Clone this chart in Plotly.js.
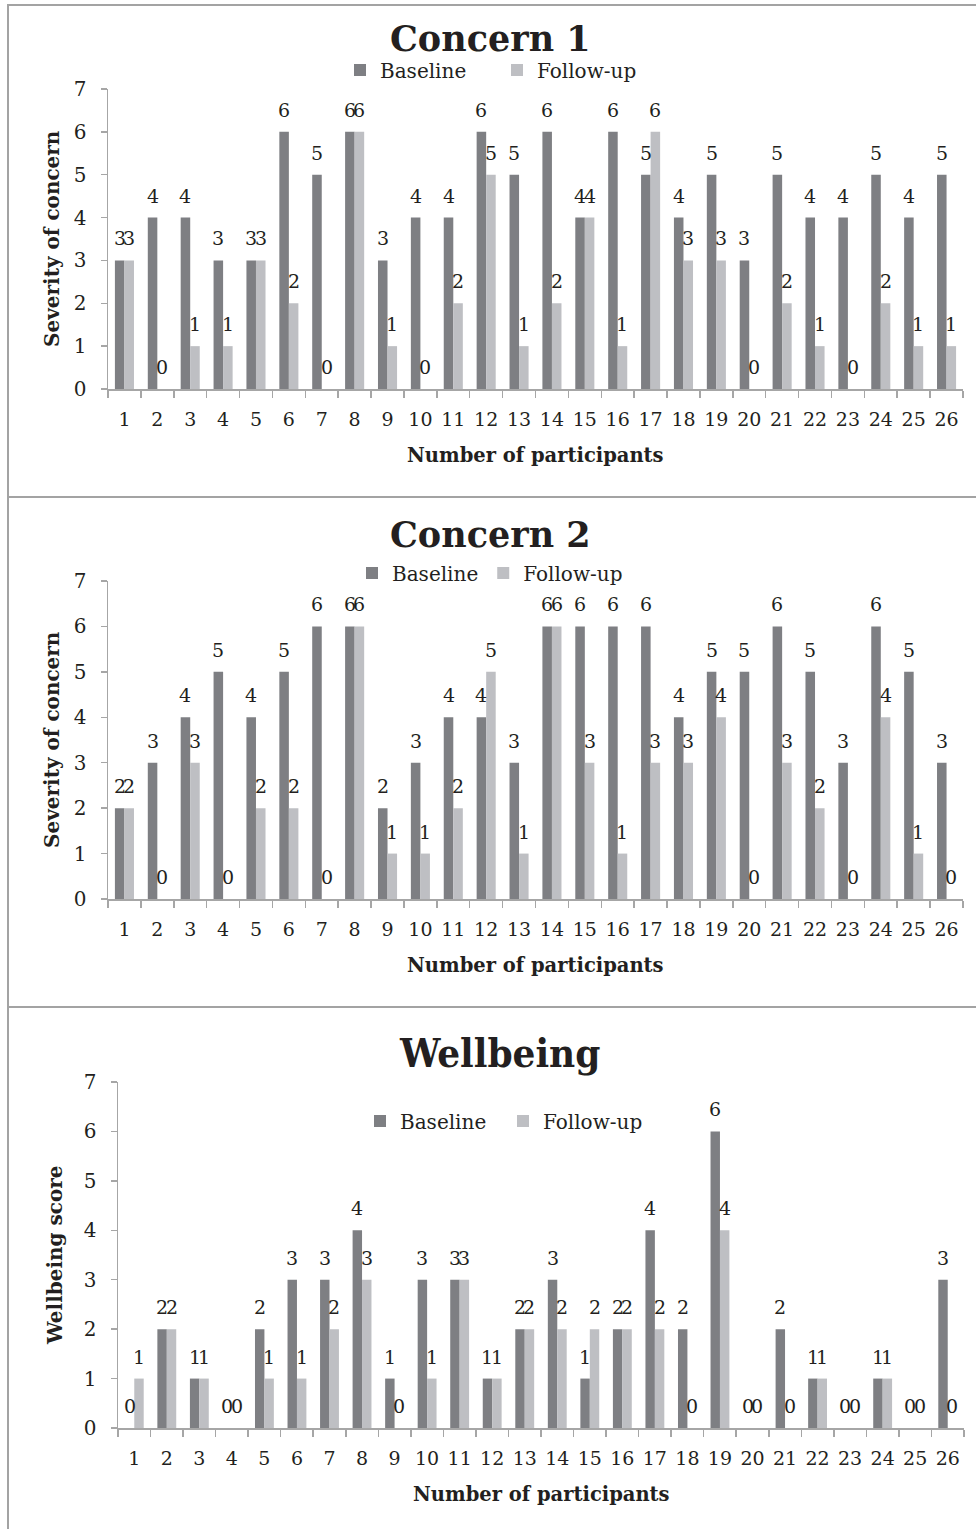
<!DOCTYPE html>
<html>
<head>
<meta charset="utf-8">
<script src="https://cdn.plot.ly/plotly-3.0.1.min.js"></script>
<style>
  html, body { margin: 0; padding: 0; background: #ffffff; }
  #chart { width: 976px; height: 1529px; }
</style>
</head>
<body>
<div id="chart"></div>
<script>
// ---- Data ----
const participants = ['1','2','3','4','5','6','7','8','9','10','11','12','13','14','15','16','17','18','19','20','21','22','23','24','25','26'];
const seriesNames = ['Baseline', 'Follow-up'];
const panelTitles = ['Concern 1', 'Concern 2', 'Wellbeing'];
const yTitles = ['Severity of concern', 'Severity of concern', 'Wellbeing score'];
const xTitle = 'Number of participants';
const yTickValues = [0, 1, 2, 3, 4, 5, 6, 7];

const concern1Baseline = [3,4,4,3,3,6,5,6,3,4,4,6,5,6,4,6,5,4,5,3,5,4,4,5,4,5];
const concern1FollowUp = [3,0,1,1,3,2,0,6,1,0,2,5,1,2,4,1,6,3,3,0,2,1,0,2,1,1];

const concern2Baseline = [2,3,4,5,4,5,6,6,2,3,4,4,3,6,6,6,6,4,5,5,6,5,3,6,5,3];
const concern2FollowUp = [2,0,3,0,2,2,0,6,1,1,2,5,1,6,3,1,3,3,4,0,3,2,0,4,1,0];

const wellbeingBaseline = [0,2,1,0,2,3,3,4,1,3,3,1,2,3,1,2,4,2,6,0,2,1,0,1,0,3];
const wellbeingFollowUp = [1,2,1,0,1,1,2,3,0,1,3,1,2,2,2,2,2,0,4,0,0,1,0,1,0,0];

// ---- Styling / layout ----
const W = 976, H = 1529;
const fx = p => p / W;
const fy = p => 1 - p / H;
const FONT = 'DejaVu Serif, Liberation Serif, serif';
const TXT = '#231f20';
const AXC = '#a6a6a6';
const COLORS = ['#7e7f83', '#bebfc3'];
const BARGAP = 0.42;

const panelData = [
  [concern1Baseline, concern1FollowUp],
  [concern2Baseline, concern2FollowUp],
  [wellbeingBaseline, wellbeingFollowUp]
];

// pixel geometry of each panel
const geom = [
  { x0: 108, x1: 963, yTop: 89,   yBot: 389,  title: 38,   titleX: 491, titleSize: 35, legY: 70,   legX: 340, legW: 112, xt: 455,  ytX: 52, border: [5, 497], titleFont: FONT },
  { x0: 108, x1: 963, yTop: 581,  yBot: 899,  title: 534,  titleX: 491, titleSize: 35, legY: 573,  legX: 352, legW: 0,   xt: 965,  ytX: 52, border: [497, 1007], titleFont: FONT },
  { x0: 118, x1: 964, yTop: 1082, yBot: 1428, title: 1052, titleX: 499, titleSize: 40, legY: 1121, legX: 360, legW: 98,  xt: 1494, ytX: 55, border: [1007, 1560], titleFont: 'DejaVu Serif Condensed, DejaVu Serif, serif' }
];

const traces = [];
const annotations = [];
const shapes = [];
const layout = {
  width: W, height: H,
  margin: { l: 0, r: 0, t: 0, b: 0, pad: 0 },
  paper_bgcolor: '#ffffff',
  plot_bgcolor: 'rgba(0,0,0,0)',
  barmode: 'group',
  bargap: BARGAP,
  bargroupgap: 0,
  font: { family: FONT, color: TXT, size: 20 },
  showlegend: true,
  annotations: annotations,
  shapes: shapes
};

geom.forEach((g, i) => {
  const n = i === 0 ? '' : String(i + 1);
  const xa = 'x' + n, ya = 'y' + n;
  const legName = 'legend' + n;

  layout['xaxis' + n] = {
    type: 'category',
    domain: [fx(g.x0), fx(g.x1)],
    anchor: ya,
    range: [-0.5, participants.length - 0.5],
    showline: true, linecolor: AXC, linewidth: 1.5,
    ticks: 'outside', ticklen: 7, tickcolor: AXC, tickwidth: 1.5,
    tickson: 'boundaries',
    tickangle: 0,
    showgrid: false, zeroline: false,
    tickfont: { family: FONT, size: 19, color: TXT },
    ticklabelstandoff: 13,
    fixedrange: true
  };
  layout['yaxis' + n] = {
    domain: [fy(g.yBot), fy(g.yTop)],
    anchor: xa,
    range: [0, 7],
    tickmode: 'array', tickvals: yTickValues, ticktext: yTickValues.map(String),
    showline: true, linecolor: AXC, linewidth: 1.5,
    ticks: 'outside', ticklen: 6, tickcolor: AXC, tickwidth: 1.5,
    showgrid: false, zeroline: false,
    tickfont: { family: FONT, size: 20, color: TXT },
    ticklabelstandoff: 10,
    fixedrange: true
  };
  const leg = {
    orientation: 'h',
    x: fx(g.legX), xanchor: 'left',
    y: fy(g.legY), yanchor: 'middle',
    font: { family: FONT, size: 20, color: TXT },
    bgcolor: 'rgba(0,0,0,0)',
    itemclick: false, itemdoubleclick: false,
    traceorder: 'normal',
    itemwidth: 30
  };
  if (g.legW) { leg.entrywidth = g.legW; leg.entrywidthmode = 'pixels'; }
  layout[legName] = leg;

  const slotPx = (g.x1 - g.x0) / participants.length;
  const barPx = slotPx * (1 - BARGAP) / 2;

  panelData[i].forEach((vals, s) => {
    traces.push({
      type: 'bar',
      name: seriesNames[s],
      x: participants,
      y: vals,
      xaxis: xa, yaxis: ya,
      legend: legName,
      marker: { color: COLORS[s], line: { width: 0 } },
      hoverinfo: 'x+y+name'
    });
    vals.forEach((v, k) => {
      annotations.push({
        xref: xa, yref: ya,
        x: k, y: v,            // category index on the category axis
        text: String(v),
        showarrow: false,
        xanchor: 'center', yanchor: 'middle',
        xshift: (s === 0 ? -1 : 1) * barPx / 2,
        yshift: 22,
        font: { family: FONT, size: 19, color: TXT }
      });
    });
  });

  // panel title
  annotations.push({
    xref: 'paper', yref: 'paper', x: fx(g.titleX), y: fy(g.title),
    xanchor: 'center', yanchor: 'middle', showarrow: false,
    text: '<b>' + panelTitles[i] + '</b>',
    font: { family: g.titleFont, size: g.titleSize, color: TXT }
  });
  // x axis title
  annotations.push({
    xref: 'paper', yref: 'paper', x: fx((g.x0 + g.x1) / 2), y: fy(g.xt),
    xanchor: 'center', yanchor: 'middle', showarrow: false,
    text: '<b>' + xTitle + '</b>',
    font: { family: FONT, size: 19.5, color: TXT }
  });
  // y axis title
  annotations.push({
    xref: 'paper', yref: 'paper', x: fx(g.ytX), y: fy((g.yTop + g.yBot) / 2),
    xanchor: 'center', yanchor: 'middle', showarrow: false, textangle: -90,
    text: '<b>' + yTitles[i] + '</b>',
    font: { family: FONT, size: 20, color: TXT }
  });
  // panel border
  shapes.push({
    type: 'rect', xref: 'paper', yref: 'paper',
    x0: fx(8), x1: fx(990), y0: fy(g.border[1]), y1: fy(g.border[0]),
    line: { color: '#a3a3a3', width: 2 }, fillcolor: 'rgba(0,0,0,0)', layer: 'below'
  });
});

Plotly.newPlot('chart', traces, layout, { displayModeBar: false, staticPlot: true });
</script>
</body>
</html>
